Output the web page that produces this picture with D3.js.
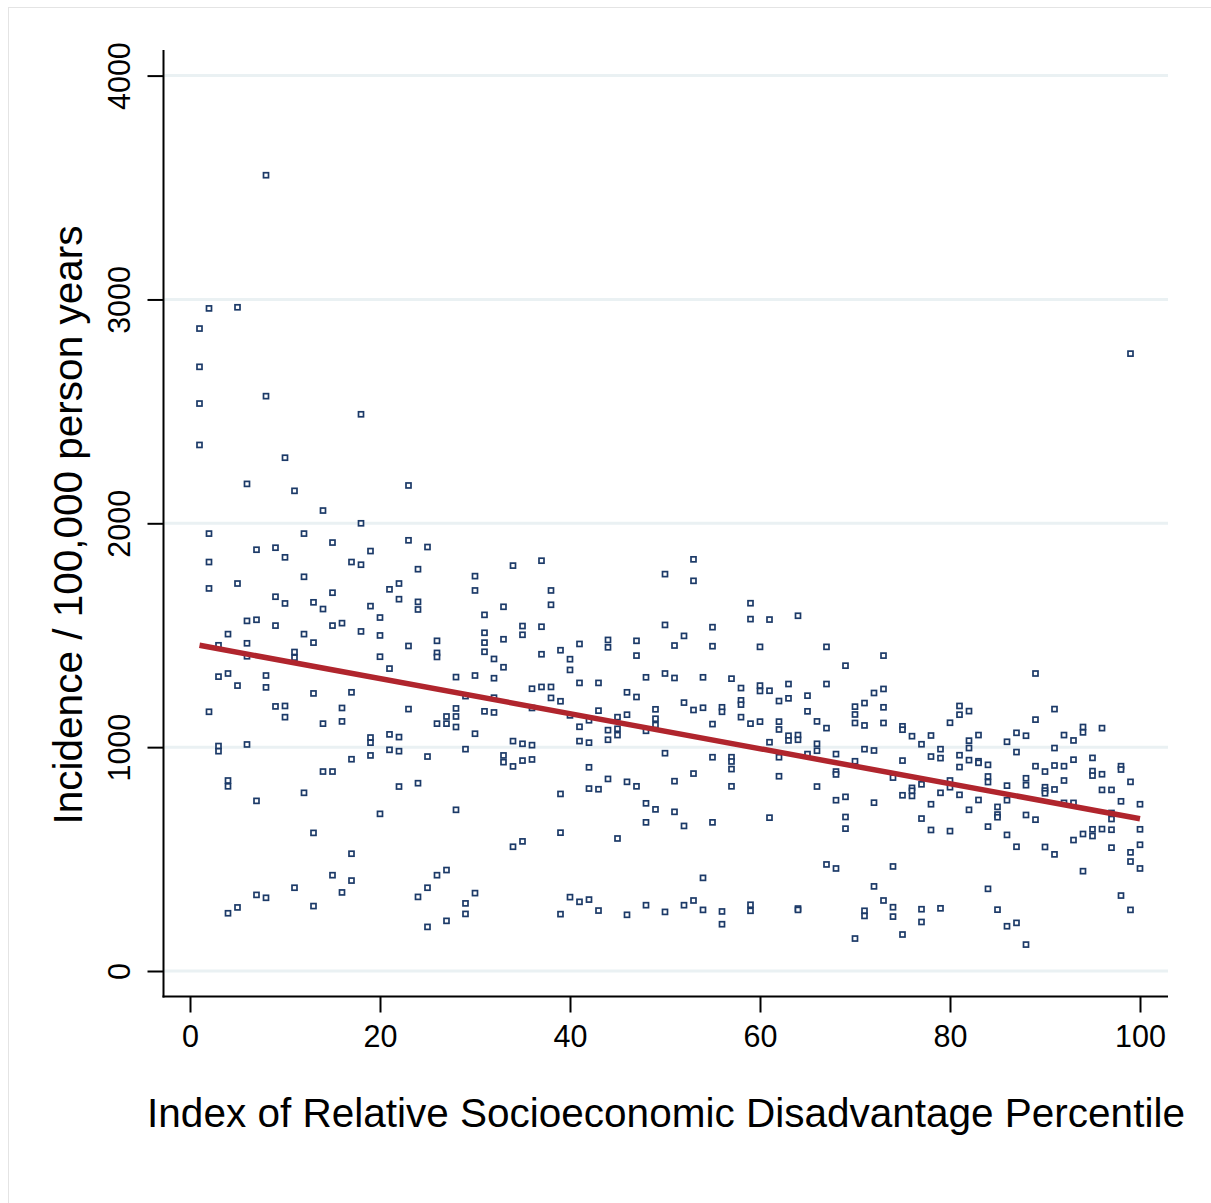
<!DOCTYPE html>
<html>
<head>
<meta charset="utf-8">
<script src="https://cdn.jsdelivr.net/npm/d3@7"></script>
<style>
  html, body { margin: 0; padding: 0; background: #ffffff; }
  svg { display: block; }
  text { font-family: "Liberation Sans", Arial, Helvetica, sans-serif; fill: #000; }
</style>
</head>
<body>
<svg id="chart" width="1211" height="1203"></svg>
<script>
// ---- Data ----
// Each row: [IRSD percentile, incidence values per 100,000 person years]
const observations = [
  [1, [2870, 2699, 2535, 2350]],
  [2, [2960, 1954, 1827, 1709, 1158]],
  [3, [1455, 1315, 1005, 982]],
  [4, [1505, 1329, 851, 825, 258]],
  [5, [2965, 1731, 1275, 284]],
  [6, [2176, 1564, 1464, 1406, 1012]],
  [7, [1882, 1569, 760, 340]],
  [8, [3555, 2568, 1320, 1267, 327]],
  [9, [1891, 1672, 1543, 1182]],
  [10, [2293, 1848, 1642, 1184, 1134]],
  [11, [2145, 1425, 1400, 372]],
  [12, [1954, 1761, 1505, 796]],
  [13, [1647, 1467, 1240, 617, 290]],
  [14, [2057, 1617, 1105, 891]],
  [15, [1914, 1690, 1543, 891, 428]],
  [16, [1554, 1175, 1115, 351]],
  [17, [1827, 1245, 946, 524, 404]],
  [18, [2487, 2000, 1815, 1517]],
  [19, [1876, 1630, 1043, 1020, 963]],
  [20, [1579, 1499, 1404, 702]],
  [21, [1705, 1351, 1057, 988]],
  [22, [1731, 1661, 1045, 982, 824]],
  [23, [2169, 1924, 1452, 1170]],
  [24, [1795, 1649, 1615, 839, 331]],
  [25, [1894, 958, 372, 197]],
  [26, [1475, 1421, 1403, 1105, 428]],
  [27, [1137, 1105, 451, 224]],
  [28, [1313, 1173, 1137, 1090, 720]],
  [29, [1228, 991, 302, 255]],
  [30, [1764, 1700, 1320, 1060, 348]],
  [31, [1591, 1511, 1467, 1426, 1160]],
  [32, [1394, 1308, 1221, 1155]],
  [33, [1627, 1482, 1357, 963, 933]],
  [34, [1811, 1027, 914, 555]],
  [35, [1541, 1502, 1015, 940, 579]],
  [36, [1261, 1175, 1009, 945]],
  [37, [1833, 1538, 1415, 1269]],
  [38, [1700, 1636, 1269, 1220]],
  [39, [1433, 1205, 791, 618, 254]],
  [40, [1393, 1345, 1142, 330]],
  [41, [1461, 1287, 1091, 1027, 309]],
  [42, [1120, 1020, 910, 815, 319]],
  [43, [1287, 1163, 812, 270]],
  [44, [1479, 1446, 1076, 1033, 858]],
  [45, [1134, 1082, 1054, 592]],
  [46, [1245, 1145, 845, 251]],
  [47, [1475, 1409, 1224, 825]],
  [48, [1312, 1073, 749, 664, 294]],
  [49, [1169, 1127, 1099, 722]],
  [50, [1773, 1546, 1329, 973, 264]],
  [51, [1454, 1309, 848, 711]],
  [52, [1497, 1199, 648, 294]],
  [53, [1839, 1743, 1166, 882, 315]],
  [54, [1312, 1176, 416, 273]],
  [55, [1536, 1451, 1103, 955, 664]],
  [56, [1178, 1158, 266, 209]],
  [57, [1306, 955, 936, 902, 825]],
  [58, [1264, 1209, 1190, 1134]],
  [59, [1643, 1572, 1105, 296, 269]],
  [60, [1448, 1275, 1251, 1114]],
  [61, [1570, 1252, 1022, 685]],
  [62, [1206, 1114, 1079, 955, 870]],
  [63, [1282, 1218, 1051, 1030]],
  [64, [1587, 1054, 1033, 279, 273]],
  [65, [1230, 1160, 969]],
  [66, [1115, 1015, 984, 824]],
  [67, [1448, 1282, 1085, 476]],
  [68, [969, 891, 878, 763, 458]],
  [69, [1364, 778, 688, 636]],
  [70, [1181, 1146, 1108, 937, 145]],
  [71, [1197, 1097, 991, 269, 246]],
  [72, [1242, 985, 752, 378]],
  [73, [1409, 1260, 1178, 1108, 315]],
  [74, [864, 467, 285, 243]],
  [75, [1093, 1078, 940, 785, 163]],
  [76, [1049, 818, 805, 782]],
  [77, [1013, 834, 681, 276, 219]],
  [78, [1052, 958, 745, 630]],
  [79, [991, 951, 796, 280]],
  [80, [1109, 851, 821, 625]],
  [81, [1184, 1145, 964, 911, 787]],
  [82, [1161, 1029, 996, 942, 720]],
  [83, [1054, 937, 930, 764]],
  [84, [921, 869, 844, 645, 367]],
  [85, [733, 699, 687, 274]],
  [86, [1024, 828, 763, 608, 200]],
  [87, [1064, 978, 555, 215]],
  [88, [1051, 861, 830, 697, 118]],
  [89, [1329, 1123, 915, 676]],
  [90, [891, 821, 806, 794, 554]],
  [91, [1170, 996, 918, 811, 521]],
  [92, [1054, 915, 851, 751]],
  [93, [1030, 944, 751, 585]],
  [94, [1090, 1066, 612, 446]],
  [95, [952, 893, 873, 633, 603]],
  [96, [1085, 879, 809, 634]],
  [97, [809, 706, 679, 631, 551]],
  [98, [915, 900, 758, 337]],
  [99, [2758, 845, 530, 489, 273]],
  [100, [745, 633, 564, 458]]
];

// Linear fit line end points [percentile, fitted incidence]
const fitLine = [[1, 1455], [100, 680]];

const xTicks = [0, 20, 40, 60, 80, 100];
const yTicks = [0, 1000, 2000, 3000, 4000];
const xTitle = "Index of Relative Socioeconomic Disadvantage Percentile";
const yTitle = "Incidence / 100,000 person years";

// ---- Layout ----
const svg = d3.select("#chart");
const axisLeftX = 163.5, axisBottomY = 996.5, plotTop = 50, plotRight = 1168;

const x = d3.scaleLinear().domain([0, 100]).range([190, 1140]);
const y = d3.scaleLinear().domain([0, 4000]).range([971, 75.6]);

// outer faint frame
svg.append("rect")
  .attr("x", 8.5).attr("y", 7.5).attr("width", 1220).attr("height", 1220)
  .attr("fill", "none").attr("stroke", "#e4e4e4").attr("stroke-width", 1);

// gridlines
svg.append("g").selectAll("line").data(yTicks).join("line")
  .attr("x1", axisLeftX + 1).attr("x2", plotRight)
  .attr("y1", d => y(d)).attr("y2", d => y(d))
  .attr("stroke", "#eaf1f3").attr("stroke-width", 3);

// points
const pts = observations.flatMap(([p, vals]) => vals.map(v => ({ p, v })));
const ms = 5;
svg.append("g").selectAll("rect").data(pts).join("rect")
  .attr("x", d => x(d.p) - ms / 2)
  .attr("y", d => y(d.v) - ms / 2)
  .attr("width", ms).attr("height", ms)
  .attr("fill", "#ffffff")
  .attr("stroke", "#1c3a68")
  .attr("stroke-width", 1.7);

// fit line
svg.append("path")
  .datum(fitLine)
  .attr("d", d3.line().x(d => x(d[0])).y(d => y(d[1])))
  .attr("fill", "none")
  .attr("stroke", "#b0252d")
  .attr("stroke-width", 5.5);

// y axis
const yAxis = svg.append("g")
  .attr("transform", `translate(${axisLeftX},0)`)
  .call(d3.axisLeft(y).tickValues(yTicks).tickSize(16).tickSizeOuter(0).tickFormat(d3.format("d")));
yAxis.select(".domain").remove();
yAxis.selectAll(".tick line").attr("stroke", "#000").attr("stroke-width", 2);
yAxis.selectAll(".tick text")
  .attr("transform", "rotate(-90)")
  .attr("x", 0).attr("y", -33.5).attr("dy", 0)
  .attr("text-anchor", "middle")
  .style("font-size", "30.5px")
  .style("font-family", '"Liberation Sans", Arial, sans-serif');
svg.append("line")
  .attr("x1", axisLeftX).attr("x2", axisLeftX)
  .attr("y1", plotTop).attr("y2", axisBottomY + 1)
  .attr("stroke", "#000").attr("stroke-width", 2);

// x axis
const xAxis = svg.append("g")
  .attr("transform", `translate(0,${axisBottomY})`)
  .call(d3.axisBottom(x).tickValues(xTicks).tickSize(16).tickSizeOuter(0).tickFormat(d3.format("d")));
xAxis.select(".domain").remove();
xAxis.selectAll(".tick line").attr("stroke", "#000").attr("stroke-width", 2);
xAxis.selectAll(".tick text")
  .attr("y", 50.5).attr("dy", 0)
  .style("font-size", "30.5px")
  .style("font-family", '"Liberation Sans", Arial, sans-serif');
svg.append("line")
  .attr("x1", axisLeftX - 1).attr("x2", plotRight)
  .attr("y1", axisBottomY).attr("y2", axisBottomY)
  .attr("stroke", "#000").attr("stroke-width", 2);

// titles
svg.append("text")
  .attr("x", 666).attr("y", 1127)
  .attr("text-anchor", "middle")
  .style("font-size", "40.5px")
  .text(xTitle);

svg.append("text")
  .attr("transform", "translate(82,525) rotate(-90)")
  .attr("text-anchor", "middle")
  .style("font-size", "40.5px")
  .text(yTitle);
</script>
</body>
</html>
